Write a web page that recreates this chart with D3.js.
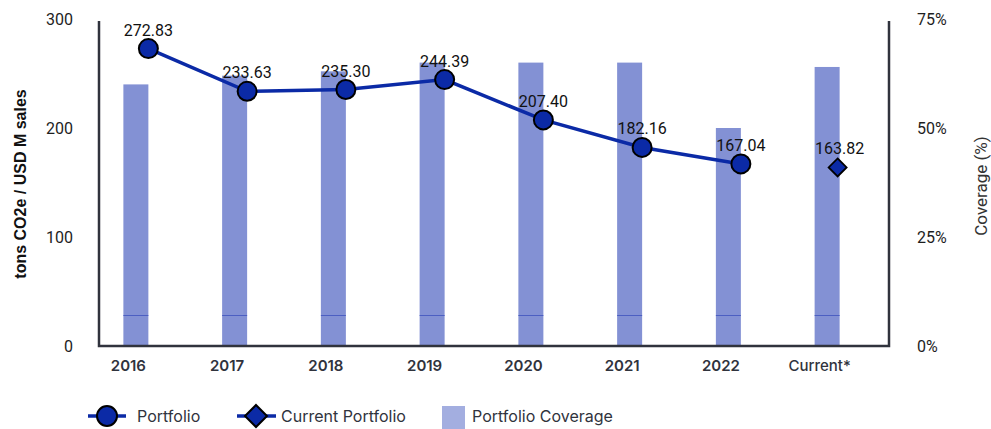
<!DOCTYPE html>
<html>
<head>
<meta charset="utf-8">
<script src="https://cdn.jsdelivr.net/npm/d3@7"></script>
<style>
  html, body { margin: 0; padding: 0; background: #fff; }
  svg { display: block; }
</style>
</head>
<body>
<svg id="chart" width="991" height="429"></svg>
<script>
const categories = ["2016", "2017", "2018", "2019", "2020", "2021", "2022", "Current*"];
const portfolio = [272.83, 233.63, 235.30, 244.39, 207.40, 182.16, 167.04, null];
const currentPortfolio = [null, null, null, null, null, null, null, 163.82];
const coverage = [60, 62, 63, 65, 65, 65, 50, 64];
const coverageLower = [7, 7, 7, 7, 7, 7, 7, 7];
const leftTicks = [0, 100, 200, 300];
const rightTicks = [0, 25, 50, 75];

const svg = d3.select("#chart");
const M = { left: 99, right: 889, top: 19, bottom: 346 };

const x = d3.scaleBand().domain(categories).range([M.left, M.right]).padding(0);
const yL = d3.scaleLinear().domain([0, 300]).range([M.bottom, M.top]);
const yR = d3.scaleLinear().domain([0, 75]).range([M.bottom, M.top]);
const cx = c => x(c) + x.bandwidth() / 2;

const barColor = "#8391d4";
const lineColor = "#0b2aa6";
const barW = 25;
const diamond = h => `M0,${-h} L${h},0 L0,${h} L${-h},0 Z`;

// bars
const bars = svg.append("g");
categories.forEach((c, i) => {
  bars.append("rect")
    .attr("x", cx(c) - barW).attr("width", barW)
    .attr("y", yR(coverage[i])).attr("height", yR(0) - yR(coverage[i]))
    .attr("fill", barColor);
  bars.append("line")
    .attr("x1", cx(c) - barW).attr("x2", cx(c))
    .attr("y1", Math.round(yR(coverageLower[i])) + 0.5).attr("y2", Math.round(yR(coverageLower[i])) + 0.5)
    .attr("stroke", "#4c5fc2").attr("stroke-width", 1);
});

// axes
const axisColor = "#30333d";
const gL = svg.append("g").attr("transform", `translate(${M.left},0)`)
  .call(d3.axisLeft(yL).tickValues(leftTicks).tickSize(0).tickPadding(26));
const gR = svg.append("g").attr("transform", `translate(${M.right},0)`)
  .call(d3.axisRight(yR).tickValues(rightTicks).tickSize(0).tickPadding(28).tickFormat(d => d + "%"));
const gB = svg.append("g").attr("transform", `translate(0,${M.bottom})`)
  .call(d3.axisBottom(x).tickSize(0).tickPadding(14));
[gL, gR].forEach(g => {
  g.select(".domain").remove();
  g.selectAll("text").attr("font-family", "Roboto, sans-serif").attr("font-size", 16).attr("fill", "#1e1e1e");
});
gB.select(".domain").remove();
gB.selectAll(".tick text")
  .attr("dx", -20)
  .attr("font-family", "Inter, sans-serif").attr("font-size", 15)
  .attr("font-weight", d => d === "Current*" ? 500 : 600)
  .attr("fill", "#30333d");

svg.append("path")
  .attr("d", `M${M.left},${M.top + 2} V${M.bottom} H${M.right} V${M.top + 2}`)
  .attr("fill", "none").attr("stroke", axisColor).attr("stroke-width", 2.5);

// line
const pts = categories.map((c, i) => ({ c, v: portfolio[i] })).filter(d => d.v != null);
svg.append("path")
  .datum(pts)
  .attr("d", d3.line().x(d => cx(d.c)).y(d => yL(d.v)))
  .attr("fill", "none").attr("stroke", lineColor).attr("stroke-width", 3.5);
svg.append("g").selectAll("circle").data(pts).join("circle")
  .attr("cx", d => cx(d.c)).attr("cy", d => yL(d.v)).attr("r", 9.5)
  .attr("fill", lineColor).attr("stroke", "#000").attr("stroke-width", 2);

const cur = categories.map((c, i) => ({ c, v: currentPortfolio[i] })).filter(d => d.v != null);
svg.append("g").selectAll("path").data(cur).join("path")
  .attr("d", diamond(9))
  .attr("transform", d => `translate(${cx(d.c) - 2},${yL(d.v)})`)
  .attr("fill", lineColor).attr("stroke", "#000").attr("stroke-width", 1.8);

// value labels
const labels = pts.concat(cur);
svg.append("g").selectAll("text").data(labels).join("text")
  .attr("x", d => cx(d.c)).attr("y", d => yL(d.v) - 13)
  .attr("text-anchor", "middle")
  .attr("font-family", "Roboto, sans-serif").attr("font-size", 16).attr("fill", "#111")
  .text(d => d.v.toFixed(2));

// axis titles
svg.append("text")
  .attr("transform", `translate(26,184) rotate(-90)`)
  .attr("text-anchor", "middle")
  .attr("font-family", "Liberation Sans, Arial, sans-serif").attr("font-weight", "bold").attr("font-size", 16)
  .attr("fill", "#111")
  .text("tons CO2e / USD M sales");
svg.append("text")
  .attr("transform", `translate(987,186) rotate(-90)`)
  .attr("text-anchor", "middle")
  .attr("font-family", "Roboto, sans-serif").attr("font-size", 17)
  .attr("fill", "#333")
  .text("Coverage (%)");

// legend
const lg = svg.append("g").attr("font-family", "Inter, sans-serif").attr("font-size", 16).attr("fill", "#30333d");
const ly = 416;
lg.append("line").attr("x1", 88).attr("x2", 126).attr("y1", ly).attr("y2", ly).attr("stroke", lineColor).attr("stroke-width", 3.5);
lg.append("circle").attr("cx", 107).attr("cy", ly).attr("r", 10).attr("fill", lineColor).attr("stroke", "#000").attr("stroke-width", 2);
lg.append("text").attr("x", 137).attr("y", ly + 6).text("Portfolio");

lg.append("line").attr("x1", 237).attr("x2", 276).attr("y1", ly).attr("y2", ly).attr("stroke", lineColor).attr("stroke-width", 3.5);
lg.append("path").attr("d", diamond(11))
  .attr("transform", `translate(256,${ly})`)
  .attr("fill", lineColor).attr("stroke", "#000").attr("stroke-width", 2);
lg.append("text").attr("x", 281).attr("y", ly + 6).text("Current Portfolio");

lg.append("rect").attr("x", 442).attr("y", 406).attr("width", 23).attr("height", 23).attr("fill", "#a3aee0");
lg.append("text").attr("x", 472).attr("y", ly + 6).text("Portfolio Coverage");
</script>
</body>
</html>
